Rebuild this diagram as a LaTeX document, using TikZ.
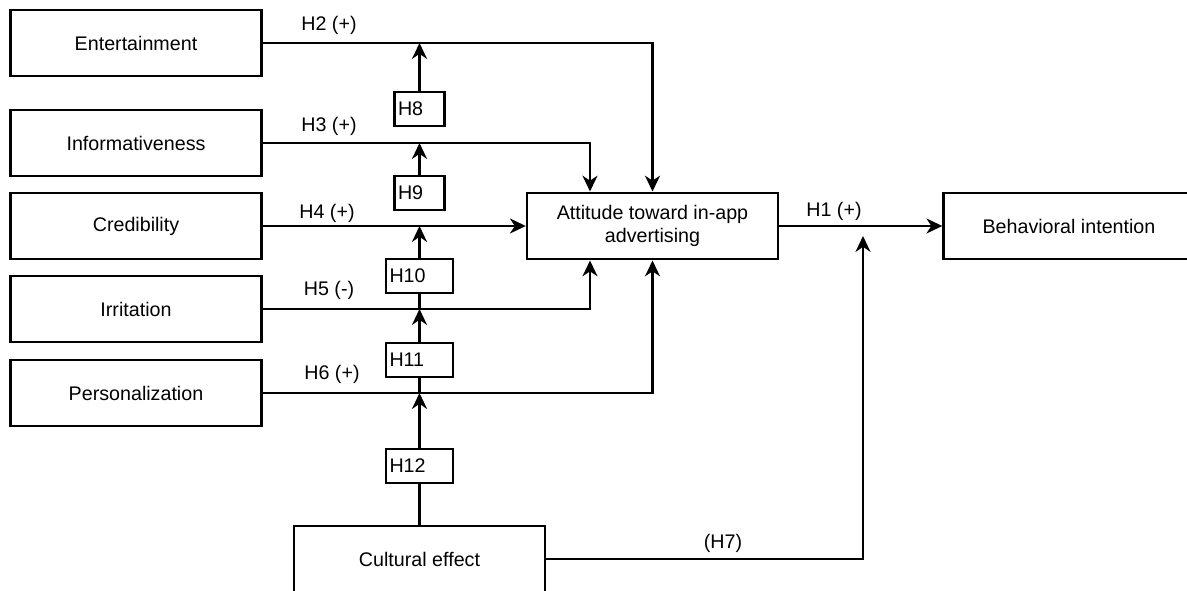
\documentclass[tikz,border=0pt]{standalone}
\usepackage{fontspec}
\setmainfont{Liberation Sans}
\usetikzlibrary{arrows.meta}

\begin{document}
\begin{tikzpicture}[x=0.02cm,y=-0.02cm,
  important line/.style={line width=1.4pt},
  path arrow/.style={important line,-{Stealth[length=9pt,width=8.5pt,inset=2.8pt]}},
  construct box/.style={draw,important line,minimum width=5.02cm,minimum height=1.33cm,align=center,font=\fontsize{11.2}{13}\selectfont},
  hyp box/.style={draw,important line,text width=#1,align=left,inner xsep=2pt,minimum height=0.68cm,font=\fontsize{11.2}{13}\selectfont},
  path label/.style={font=\fontsize{11.2}{13}\selectfont}]
  \useasboundingbox (0,0) rectangle (1187,591);
  \node[construct box] (ent) at (136,43) {Entertainment}; %left column
  \node[construct box] (inf) at (136,143) {Informativeness};
  \node[construct box] (cred) at (136,226) {Credibility};
  \node[construct box] (irr) at (136,309) {Irritation};
  \node[construct box] (pers) at (136,393) {Personalization};
  \node[construct box] (att) at (652.5,226) {Attitude toward in-app\\advertising}; %middle box
  \node[construct box] (beh) at (1069,226) {Behavioral intention}; %cut by the right edge
  \node[construct box] (cult) at (419.5,559) {Cultural effect}; %cut by the bottom edge
  \node[hyp box=0.86cm] (h8) at (419.5,109) {H8}; %moderator boxes
  \node[hyp box=0.86cm] (h9) at (419.5,193) {H9};
  \node[hyp box=1.2cm] (h10) at (419.5,276) {H10};
  \node[hyp box=1.2cm] (h11) at (419.5,360) {H11};
  \node[hyp box=1.2cm] (h12) at (419.5,466) {H12};
  \coordinate (h7tip) at (863,236); %end of the H7 arrow
  \draw[path arrow] (ent.east) -| (att.north); %H2
  \draw[path arrow] (inf.east) -| ([xshift=-1.25cm]att.north); %H3
  \draw[path arrow] (cred.east) -- (att.west); %H4
  \draw[path arrow] (irr.east) -| ([xshift=-1.25cm]att.south); %H5
  \draw[path arrow] (pers.east) -| (att.south); %H6
  \draw[path arrow] (att.east) -- (beh.west); %H1
  \draw[path arrow] (cult.east) -| (h7tip); %H7
  \draw[path arrow] (h8.north) -- (h8.north |- ent.east); %moderator arrows
  \draw[path arrow] (h9.north) -- (h9.north |- inf.east);
  \draw[path arrow] (h10.north) -- (h10.north |- cred.east);
  \draw[important line] (h10.south) -- (h10.south |- irr.east);
  \draw[path arrow] (h11.north) -- (h11.north |- irr.east);
  \draw[important line] (h11.south) -- (h11.south |- pers.east);
  \draw[path arrow] (h12.north) -- (h12.north |- pers.east);
  \draw[important line] (cult.north) -- (h12.south);
  \node[path label] (lh2) at (329,25) {H2 (+)}; %labels
  \node[path label] (lh3) at (329,126) {H3 (+)};
  \node[path label] (lh4) at (327,213) {H4 (+)};
  \node[path label] (lh5) at (329,290) {H5 (-)};
  \node[path label] (lh6) at (332,374) {H6 (+)};
  \node[path label] (lh1) at (834,211) {H1 (+)};
  \node[path label] (lh7) at (723,543) {(H7)};
\end{tikzpicture}
\end{document}
